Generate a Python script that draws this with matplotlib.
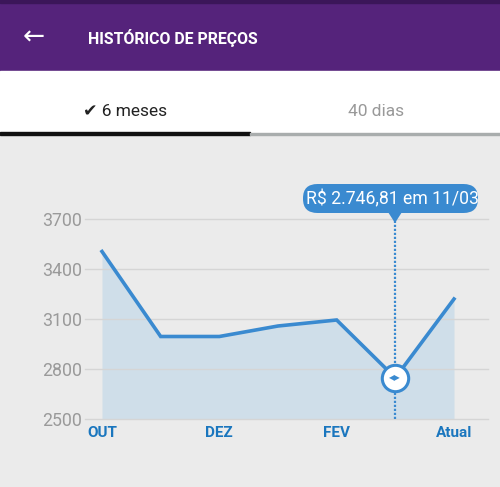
import matplotlib.pyplot as plt
from matplotlib.patches import FancyBboxPatch, Rectangle, Polygon

# price history (R$), one point per month, last point = current price
months = ['OUT', 'NOV', 'DEZ', 'JAN', 'FEV', 'MAR', 'Atual']
prices = [3505, 2995, 2995, 3058, 3094, 2746.81, 3220]
shown_labels = ['OUT', 'DEZ', 'FEV', 'Atual']
y_ticks = [2500, 2800, 3100, 3400, 3700]
sel_idx = 5
sel_text = 'R$ 2.746,81 em 11/03'

BLUE = '#3a8ad0'
FILL = '#cfdee9'
BG = '#ebebeb'
PURPLE = '#55237b'

plt.rcParams['font.family'] = ['Roboto', 'DejaVu Sans']

W, H = 500, 487
fig = plt.figure(figsize=(5, 4.87), dpi=100)
fig.patch.set_facecolor(BG)

def fy(py):
    return 1 - py / H

# header + tabs
fig.patches.append(Rectangle((0, fy(71)), 1, 71 / H, transform=fig.transFigure, color=PURPLE, zorder=0))
fig.patches.append(Rectangle((0, fy(3)), 1, 3 / H, transform=fig.transFigure, color='#3b1659', zorder=1))
fig.patches.append(Rectangle((0, fy(134)), 1, 63 / H, transform=fig.transFigure, color='white', zorder=0))
fig.patches.append(Rectangle((0, fy(135)), 0.5, 2.5 / H, transform=fig.transFigure, color='#111111', zorder=1))
fig.patches.append(Rectangle((0.5, fy(135)), 0.5, 2 / H, transform=fig.transFigure, color='#a9adad', zorder=1))
fig.text(34 / W, fy(38), '←', color='white', fontsize=19, ha='center', va='center', family=['DejaVu Sans'])
fig.text(88 / W, fy(38), 'HISTÓRICO DE PREÇOS', color='white', fontsize=11.4, fontweight='bold',
         ha='left', va='center')
fig.text(125 / W, fy(112), '✔ 6 meses', color='#222222', fontsize=12.5, ha='center', va='center',
         family=['Roboto', 'DejaVu Sans'])
fig.text(376 / W, fy(112), '40 dias', color='#999999', fontsize=12.5, ha='center', va='center')

# chart
left, right, top, bottom = 85, 488, 140, 419
ax = fig.add_axes([left / W, 1 - bottom / H, (right - left) / W, (bottom - top) / H])
ax.set_facecolor(BG)
step = (454 - 102) / 6
ax.set_xlim(-(102 - left) / step, 6 + (right - 454) / step)
ax.set_ylim(2500, 2500 + (bottom - top) * 6)
for s in ax.spines.values():
    s.set_visible(False)

x = list(range(len(months)))
ax.fill_between(x, prices, 2500, color=FILL, lw=0, zorder=1)
ax.plot(x, prices, color=BLUE, lw=2.6, solid_joinstyle='miter', zorder=3)
for t in y_ticks:
    ax.axhline(t, color='#d5d5d5', lw=1, zorder=2, clip_on=False)

ax.set_yticks(y_ticks)
ax.set_yticklabels([str(t) for t in y_ticks], color='#9a9a9a', fontsize=12.8)
ax.tick_params(axis='y', length=0, pad=2)
ax.set_xticks([months.index(m) for m in shown_labels])
ax.set_xticklabels(shown_labels, color='#1a76be', fontsize=11, fontweight='bold')
ax.tick_params(axis='x', length=0, pad=5)

# selection: dotted line, marker, tooltip
def dx(px):
    return ax.get_xlim()[0] + (px - left) / step

def dy(py):
    return 2500 + (bottom - py) * 6

xs = sel_idx
ax.plot([xs, xs], [2500, dy(214)], color=BLUE, lw=1.6, ls=(0, (1, 0.8)), zorder=2)
ax.plot(xs, prices[sel_idx], 'o', ms=19, mfc='white', mec=BLUE, mew=2.2, zorder=5)
ax.text(xs, prices[sel_idx], '◀▶', color=BLUE, fontsize=5.5, ha='center', va='center', zorder=6,
        family=['DejaVu Sans'])
tx0, tx1 = 303, 478
ty0, ty1 = 184, 213
fig.patches.append(FancyBboxPatch((tx0 / W, fy(ty1)), (tx1 - tx0) / W, (ty1 - ty0) / H,
                                  boxstyle='round,pad=0,rounding_size=0.029', transform=fig.transFigure,
                                  color=BLUE, zorder=7, lw=0))
ax.add_patch(Polygon([(dx(388), dy(212)), (dx(402), dy(212)), (dx(395), dy(223))], closed=True,
                     color=BLUE, zorder=7, clip_on=False, lw=0))
fig.text(393 / W, fy(199), sel_text, color='white', fontsize=12.7, ha='center', va='center', zorder=8)

fig.savefig('out.png', dpi=100, facecolor=BG)
